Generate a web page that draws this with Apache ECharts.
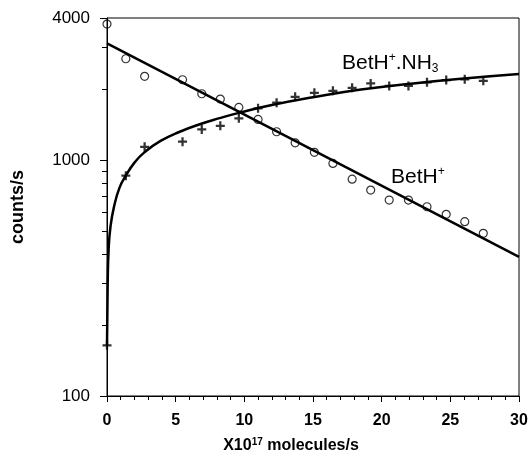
<!DOCTYPE html>
<html>
<head>
<meta charset="utf-8">
<script src="https://cdn.jsdelivr.net/npm/echarts@6/dist/echarts.min.js"></script>
<style>
  html, body { margin: 0; padding: 0; background: #fff; }
  #chart { width: 531px; height: 460px; }
</style>
</head>
<body>
<div id="chart"></div>
<script>
// flow rate, x10^17 molecules/s
const flowX = [0, 1.37, 2.74, 5.5, 6.9, 8.25, 9.6, 11.0, 12.35, 13.7, 15.1, 16.45, 17.85, 19.2, 20.55, 21.95, 23.3, 24.7, 26.05, 27.4];
// BetH+ counts (open circles)
const bethCounts = [3770, 2687, 2263, 2190, 1910, 1813, 1672, 1486, 1318, 1183, 1078, 968, 830, 746, 677, 677, 634, 589, 548, 489];
// BetH+.NH3 counts (crosses)
const adductCounts = [164, 858, 1138, 1196, 1349, 1397, 1503, 1656, 1750, 1854, 1928, 1966, 2024, 2113, 2060, 2060, 2135, 2183, 2198, 2168];

// fitted lines
const bethFitX = [0, 30];
const bethFitY = [3122, 389];
const adductFitX = [0, 0.05, 0.12, 0.25, 0.5, 0.9, 1.37, 2, 2.7, 3.9, 5.3, 6.7, 8.2, 9.6, 12, 15, 18.5, 22.3, 26, 30];
const adductFitY = [164, 300, 420, 520, 630, 760, 858, 975, 1075, 1205, 1318, 1415, 1505, 1585, 1710, 1845, 1990, 2110, 2215, 2314];

const yLabels = [100, 1000, 4000];
const yMinorTicks = [200, 300, 400, 500, 600, 700, 800, 900, 2000, 3000];

const zip = (xs, ys) => xs.map((x, i) => [x, ys[i]]);

const chart = echarts.init(document.getElementById("chart"));
const font = "Liberation Sans, Arial, sans-serif";

chart.setOption({
  animation: false,
  grid: {
    left: 107, right: 12, top: 18, bottom: 64,
    show: true, borderColor: "#000", borderWidth: 1
  },
  xAxis: {
    type: "value",
    min: 0, max: 30, interval: 5,
    axisLine: { lineStyle: { color: "#000" } },
    axisTick: { length: 6, lineStyle: { color: "#000" } },
    minorTick: { show: true, splitNumber: 5, length: 4, lineStyle: { color: "#000" } },
    splitLine: { show: false },
    axisLabel: { color: "#000", fontFamily: font, fontSize: 16, fontWeight: "bold", margin: 17 },
    name: "{b|X10}{sup|17}{b| molecules/s}",
    nameLocation: "middle",
    nameGap: 41,
    nameTextStyle: {
      padding: [0, 44, 0, 0],
      rich: {
        b: { fontFamily: font, fontSize: 16, fontWeight: "bold", color: "#000" },
        sup: { fontFamily: font, fontSize: 10, fontWeight: "bold", color: "#000", padding: [0, 0, 8, 0] }
      }
    }
  },
  yAxis: [
    {
      type: "log",
      min: 100, max: 4000,
      axisLine: { lineStyle: { color: "#000" } },
      axisTick: { length: 7, customValues: yLabels, lineStyle: { color: "#000" } },
      splitLine: { show: false },
      axisLabel: {
        customValues: yLabels,
        formatter: (v) => String(Math.round(v)),
        color: "#000", fontFamily: font, fontSize: 17, margin: 17
      },
      name: "counts/s",
      nameLocation: "middle",
      nameRotate: 90,
      nameGap: 80,
      nameTextStyle: { color: "#000", fontFamily: font, fontSize: 18, fontWeight: "bold" }
    },
    {
      type: "log",
      min: 100, max: 4000,
      position: "left",
      axisLine: { show: false },
      axisTick: { length: 5, customValues: yMinorTicks, lineStyle: { color: "#000" } },
      axisLabel: { show: false },
      splitLine: { show: false }
    }
  ],
  series: [
    {
      type: "line",
      data: zip(bethFitX, bethFitY),
      showSymbol: false,
      lineStyle: { color: "#000", width: 2.5 },
      z: 2
    },
    {
      type: "line",
      data: zip(adductFitX, adductFitY),
      smooth: 0.5,
      showSymbol: false,
      lineStyle: { color: "#000", width: 2.5 },
      z: 2
    },
    {
      type: "scatter",
      data: zip(flowX, bethCounts),
      symbol: "circle",
      symbolSize: 8,
      itemStyle: { color: "rgba(0,0,0,0)", borderColor: "#000", borderWidth: 1.2 },
      z: 3
    },
    {
      type: "scatter",
      data: zip(flowX, adductCounts),
      symbol: "path://M3,0h2v3h3v2h-3v3h-2v-3h-3v-2h3z",
      symbolSize: 9,
      itemStyle: { color: "#000" },
      z: 3
    }
  ],
  graphic: [
    {
      type: "text",
      left: 342, top: 52,
      style: {
        text: "{n|BetH}{sup|+}{n|.NH}{sub|3}",
        rich: {
          n: { fontFamily: font, fontSize: 21, fill: "#000" },
          sup: { fontFamily: font, fontSize: 12, fill: "#000", padding: [0, 0, 10, 0] },
          sub: { fontFamily: font, fontSize: 12, fill: "#000", padding: [12, 0, 0, 0] }
        }
      }
    },
    {
      type: "text",
      left: 391, top: 166,
      style: {
        text: "{n|BetH}{sup|+}",
        rich: {
          n: { fontFamily: font, fontSize: 21, fill: "#000" },
          sup: { fontFamily: font, fontSize: 12, fill: "#000", padding: [0, 0, 10, 0] }
        }
      }
    }
  ]
});
</script>
</body>
</html>
